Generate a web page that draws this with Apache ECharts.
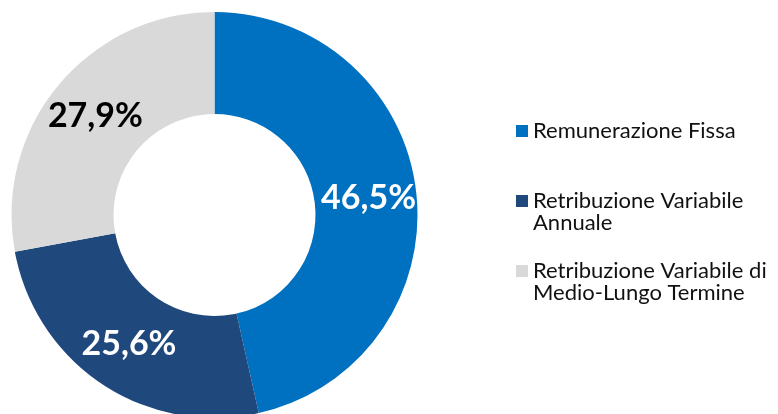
<!DOCTYPE html>
<html><head><meta charset="utf-8">
<script src="https://cdn.jsdelivr.net/npm/echarts@6/dist/echarts.min.js"></script>
<style>html,body{margin:0;padding:0;background:#fff}#c{width:778px;height:414px}</style>
</head><body><div id="c"></div>
<script>
const categories = ['Remunerazione Fissa', 'Retribuzione Variabile\nAnnuale', 'Retribuzione Variabile di\nMedio-Lungo Termine'];
const values = [46.5, 25.6, 27.9];
const colors = ['#0070C0', '#1F497D', '#D9D9D9'];
const labelColors = ['#ffffff', '#ffffff', '#000000'];

const chart = echarts.init(document.getElementById('c'), null, {renderer: 'canvas'});
const legendFont = {fontFamily: 'Lato', fontSize: 22, color: '#111111', lineHeight: 22};
const legendTops = [120, 190, 260];
const tallIcon = 'path://M0,0 L12,0 L12,12 L0,12 Z M0,34';
const legends = categories.map((name, i) => {
  const twoLine = name.indexOf('\n') >= 0;
  return {
    data: [name], left: 516, top: legendTops[i], padding: 0,
    itemWidth: 12, itemHeight: twoLine ? 34 : 12, itemGap: 0,
    icon: twoLine ? tallIcon : 'rect', selectedMode: false,
    textStyle: legendFont
  };
});
chart.setOption({
  animation: false,
  legend: legends,
  series: [{
    type: 'pie',
    center: [214.5, 215],
    radius: [101, 203],
    startAngle: 90,
    clockwise: true,
    avoidLabelOverlap: false,
    label: {show: true, position: 'inside', fontFamily: 'Lato', fontWeight: 'bold', fontSize: 34,
      formatter: p => p.value.toFixed(1).replace('.', ',') + '%'},
    labelLine: {show: false},
    emphasis: {disabled: true},
    itemStyle: {borderWidth: 0},
    data: categories.map((n, i) => ({name: n, value: values[i],
      itemStyle: {color: colors[i]}, label: {color: labelColors[i]}}))
  }]
});
</script></body></html>
